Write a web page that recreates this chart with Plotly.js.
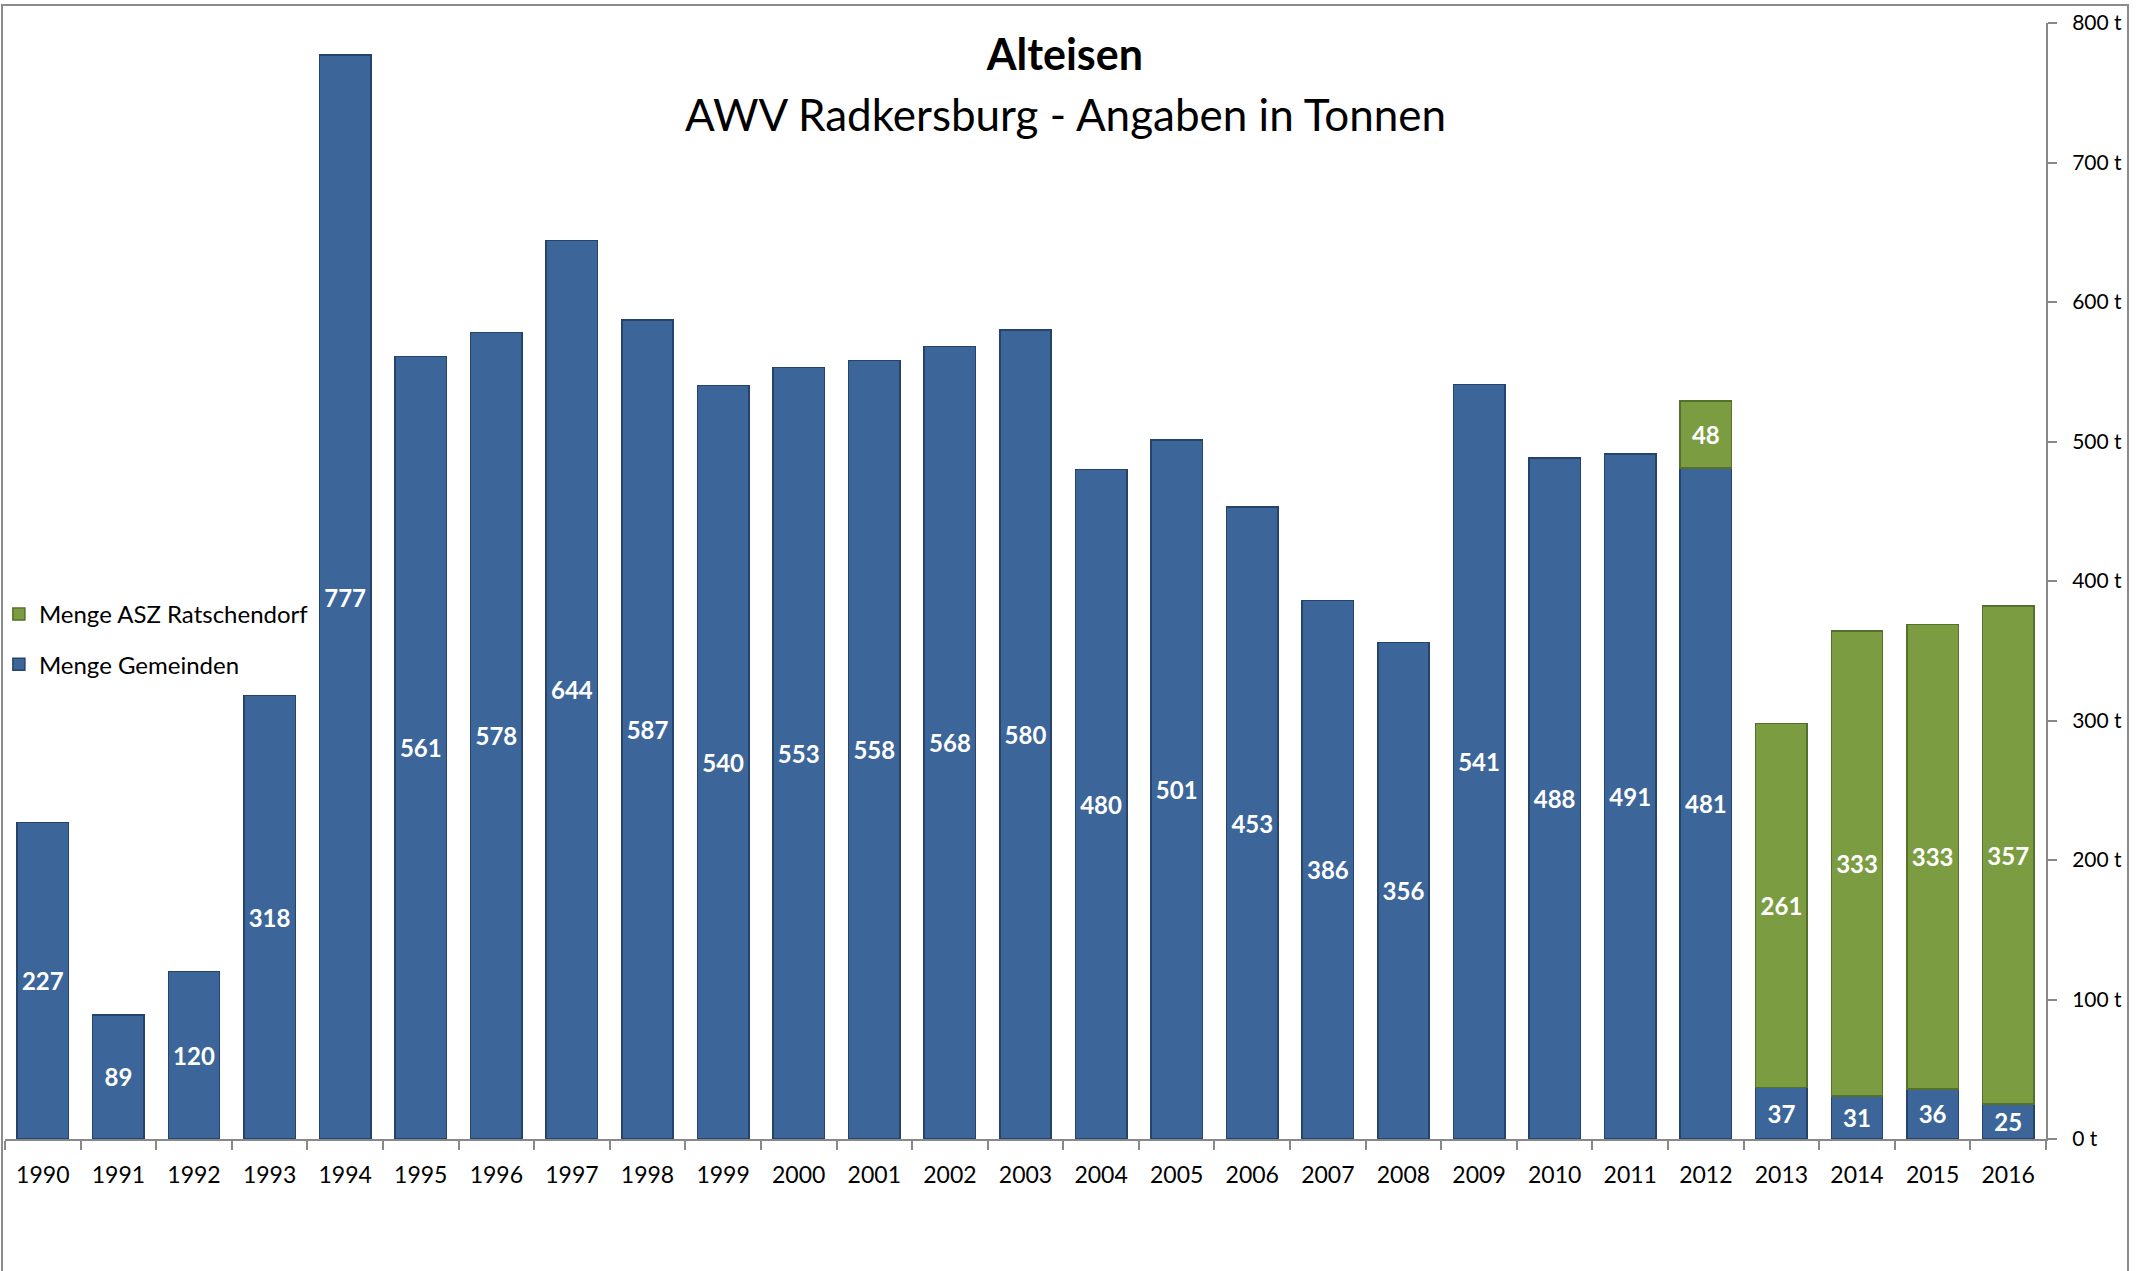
<!DOCTYPE html>
<html>
<head>
<meta charset="utf-8">
<script src="https://cdn.plot.ly/plotly-3.0.1.min.js"></script>
<style>
  html, body { margin: 0; padding: 0; background: #fff; }
  #wrap { position: relative; width: 2149px; height: 1271px; overflow: hidden; }
  #chart { position: absolute; left: 0; top: 0; width: 2149px; height: 1271px; }
  #frame { position: absolute; left: 1px; top: 4px; width: 2128px; height: 1300px;
           border: 2px solid #8c8c8c; pointer-events: none; box-sizing: border-box; }
</style>
</head>
<body>
<div id="wrap">
  <div id="chart"></div>
  <div id="frame"></div>
</div>
<script>
const years = ['1990','1991','1992','1993','1994','1995','1996','1997','1998','1999',
               '2000','2001','2002','2003','2004','2005','2006','2007','2008','2009',
               '2010','2011','2012','2013','2014','2015','2016'];
const mengeGemeinden = [227, 89, 120, 318, 777, 561, 578, 644, 587, 540,
                        553, 558, 568, 580, 480, 501, 453, 386, 356, 541,
                        488, 491, 481, 37, 31, 36, 25];
const mengeASZ = [null, null, null, null, null, null, null, null, null, null,
                  null, null, null, null, null, null, null, null, null, null,
                  null, null, 48, 261, 333, 333, 357];
const yTicks = [0, 100, 200, 300, 400, 500, 600, 700, 800];

const FONT = 'Lato, "Open Sans", sans-serif';

const traces = [
  {
    type: 'bar', name: 'Menge Gemeinden', x: years, y: mengeGemeinden,
    legendgroup: 'g', legendrank: 2,
    marker: { color: '#3c6699', line: { color: '#25436b', width: 1.5 } },
    texttemplate: '%{y}', textposition: 'inside', insidetextanchor: 'middle',
    constraintext: 'none', textangle: 0,
    textfont: { family: FONT, size: 24, color: '#ffffff', weight: 'bold' },
    hoverinfo: 'x+y+name'
  },
  {
    type: 'bar', name: 'Menge ASZ Ratschendorf', x: years, y: mengeASZ,
    legendgroup: 'a', legendrank: 1,
    marker: { color: '#7b9c41', line: { color: '#55702a', width: 1.5 } },
    texttemplate: '%{y}', textposition: 'inside', insidetextanchor: 'middle',
    constraintext: 'none', textangle: 0,
    textfont: { family: FONT, size: 24, color: '#ffffff', weight: 'bold' },
    hoverinfo: 'x+y+name'
  }
];

const layout = {
  width: 2149, height: 1271,
  margin: { l: 5, r: 103, t: 23, b: 132, autoexpand: false },
  paper_bgcolor: '#ffffff', plot_bgcolor: '#ffffff',
  font: { family: FONT, color: '#000000' },
  barmode: 'stack', bargap: 0.32,
  title: {
    text: '<b>Alteisen</b>',
    font: { family: FONT, size: 43, color: '#000000' },
    x: 0.4955, xanchor: 'center', y: 1 - 55/1271, yanchor: 'middle', yref: 'container'
  },
  annotations: [{
    text: 'AWV Radkersburg - Angaben in Tonnen',
    xref: 'paper', yref: 'paper', x: 0.5194, y: 1 - (114 - 23)/1116,
    xanchor: 'center', yanchor: 'middle', showarrow: false,
    font: { family: FONT, size: 44, color: '#000000' }
  }],
  showlegend: true,
  legend: {
    x: -0.003, xanchor: 'left', y: 1 - (592 - 23)/1116, yanchor: 'top',
    traceorder: 'grouped', tracegroupgap: 16,
    font: { family: FONT, size: 24, color: '#000000' },
    bgcolor: 'rgba(255,255,255,0)'
  },
  xaxis: {
    type: 'category', showgrid: false, zeroline: false,
    showline: true, linecolor: '#888888', linewidth: 2,
    ticks: 'outside', ticklen: 9, tickwidth: 2, tickcolor: '#888888',
    tickson: 'boundaries', ticklabelstandoff: 14,
    tickfont: { family: FONT, size: 23, color: '#000000' },
    fixedrange: true
  },
  yaxis: {
    side: 'right', range: [0, 800], showgrid: false, zeroline: false,
    showline: true, linecolor: '#888888', linewidth: 2,
    ticks: 'outside', ticklen: 9, tickwidth: 2, tickcolor: '#888888',
    tickvals: yTicks, ticktext: yTicks.map(v => v + ' t'),
    ticklabelstandoff: 11,
    tickfont: { family: FONT, size: 21, color: '#000000' },
    fixedrange: true
  }
};

Plotly.newPlot('chart', traces, layout, { displayModeBar: false, staticPlot: true });
</script>
</body>
</html>
